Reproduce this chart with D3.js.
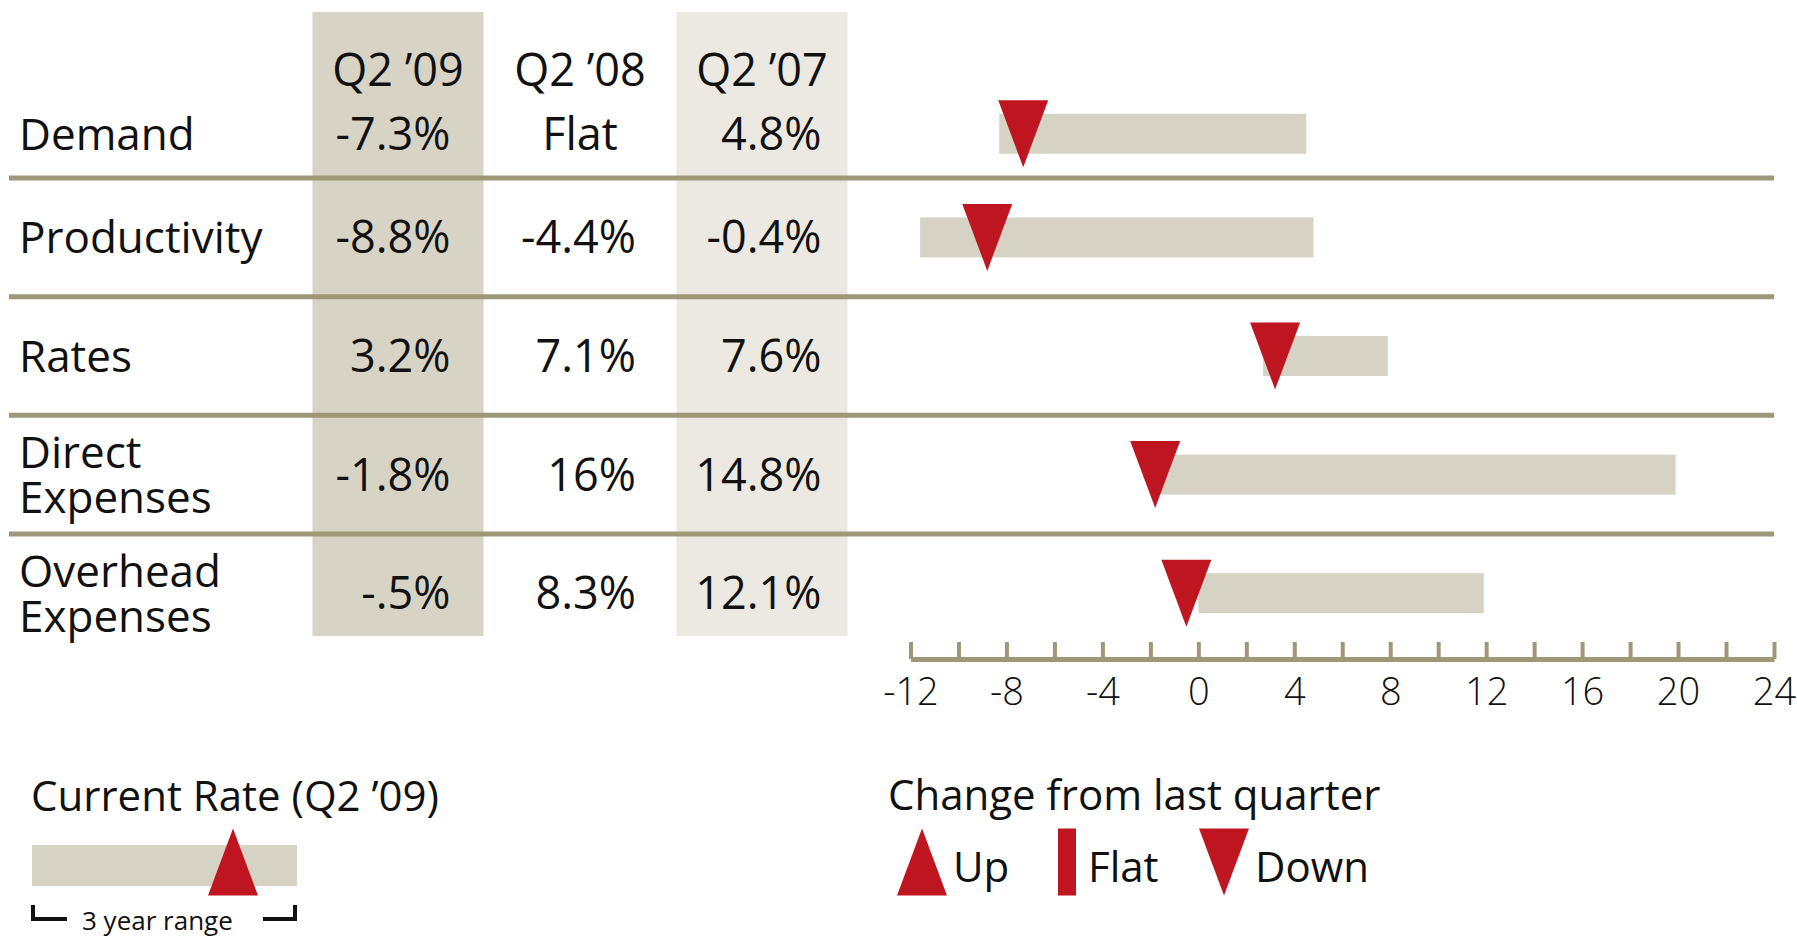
<!DOCTYPE html>
<html>
<head>
<meta charset="utf-8">
<script src="https://cdn.jsdelivr.net/npm/d3@7"></script>
<style>
  body { margin: 0; background: #fff; }
  svg text { font-family: "Open Sans", "Noto Sans", sans-serif; fill: #111; }
</style>
</head>
<body>
<div id="chart"></div>
<script>
// rows of the table
const categories = ["Demand", "Productivity", "Rates", "Direct Expenses", "Overhead Expenses"];
const labelLines = [["Demand"], ["Productivity"], ["Rates"], ["Direct", "Expenses"], ["Overhead", "Expenses"]];
const quarters = ["Q2 \u201909", "Q2 \u201908", "Q2 \u201907"];
const q209 = ["-7.3%", "-8.8%", "3.2%", "-1.8%", "-.5%"];
const q208 = ["Flat", "-4.4%", "7.1%", "16%", "8.3%"];
const q207 = ["4.8%", "-0.4%", "7.6%", "14.8%", "12.1%"];

// current rate (triangle) and 3 year range (bar)
const current = [-7.3, -8.8, 3.2, -1.8, -0.5];
const rangeMin = [-8.3, -11.6, 2.7, -1.6, 0.0];
const rangeMax = [4.5, 4.8, 7.9, 19.9, 11.9];
const change = ["down", "down", "down", "down", "down"];

const axisTicks = d3.range(-12, 25, 2);

const w = 1797, h = 938;
const red = "#bf1520", barCol = "#d6d3c5", olive = "#9d9877";
const triW = 50, triH = 67;
const rightPad = [33, 29.5, 26]; // value columns are right aligned, a bit in from the band edge

const svg = d3.select("#chart").append("svg")
  .attr("width", w).attr("height", h);

// scales
const y = d3.scaleBand().domain(categories).range([59.5, 652.5]);
const rowMid = (d, i) => y(d) + y.bandwidth() / 2 + (i === 0 ? 15 : 0); // first row sits under header
const col = d3.scaleBand().domain(quarters).range([307, 853]).paddingInner(0.06).paddingOuter(0.03);
const x = d3.scaleLinear().domain([-12, 24]).range([910.5, 1774]);

// column shading
svg.append("rect")
  .attr("x", col(quarters[0])).attr("y", 12)
  .attr("width", col.bandwidth()).attr("height", 624)
  .attr("fill", "#d7d4c6");
svg.append("rect")
  .attr("x", col(quarters[2])).attr("y", 12)
  .attr("width", col.bandwidth()).attr("height", 624)
  .attr("fill", "#ebe9e1");

// header
svg.append("g").selectAll("text")
  .data(quarters).enter().append("text")
  .attr("x", d => col(d) + col.bandwidth() / 2)
  .attr("y", 86)
  .attr("text-anchor", "middle")
  .attr("font-size", 45)
  .text(d => d);

// separators
svg.append("g").selectAll("line")
  .data(categories.slice(0, -1)).enter().append("line")
  .attr("x1", 9).attr("x2", 1774)
  .attr("y1", d => y(d) + y.bandwidth())
  .attr("y2", d => y(d) + y.bandwidth())
  .attr("stroke", olive).attr("stroke-width", 5);

// row labels
const lab = svg.append("g").selectAll("text")
  .data(categories).enter().append("text")
  .attr("font-size", 44);
lab.each(function (d, i) {
  const lines = labelLines[i];
  const base = rowMid(d, i) + 16 - (lines.length - 1) * 22.5;
  d3.select(this).selectAll("tspan")
    .data(lines).enter().append("tspan")
    .attr("x", 19)
    .attr("y", (t, j) => base + j * 45)
    .text(t => t);
});

// values
[q209, q208, q207].forEach((vals, c) => {
  const right = col(quarters[c]) + col.bandwidth() - rightPad[c];
  const mid = col(quarters[c]) + col.bandwidth() / 2;
  svg.append("g").selectAll("text")
    .data(vals).enter().append("text")
    .attr("x", v => v.includes("%") ? right : mid)
    .attr("y", (v, i) => rowMid(categories[i], i) + 16)
    .attr("text-anchor", v => v.includes("%") ? "end" : "middle")
    .attr("font-size", 45)
    .text(v => v);
});

// range bars
svg.append("g").selectAll("rect")
  .data(categories).enter().append("rect")
  .attr("x", (d, i) => x(rangeMin[i]))
  .attr("width", (d, i) => x(rangeMax[i]) - x(rangeMin[i]))
  .attr("y", (d, i) => rowMid(d, i) - 20)
  .attr("height", 40)
  .attr("fill", barCol);

// triangle shapes
function marker(cx, cy, dir) {
  const p = d3.path();
  if (dir === "down") {
    p.moveTo(cx - triW / 2, cy - triH / 2);
    p.lineTo(cx + triW / 2, cy - triH / 2);
    p.lineTo(cx, cy + triH / 2);
  } else if (dir === "up") {
    p.moveTo(cx - triW / 2, cy + triH / 2);
    p.lineTo(cx + triW / 2, cy + triH / 2);
    p.lineTo(cx, cy - triH / 2);
  } else {
    p.rect(cx - 9, cy - triH / 2, 18, triH);
  }
  p.closePath();
  return p.toString();
}

svg.append("g").selectAll("path")
  .data(categories).enter().append("path")
  .attr("d", (d, i) => marker(x(current[i]), rowMid(d, i), change[i]))
  .attr("fill", red);

// axis
const axis = d3.axisBottom(x)
  .tickValues(axisTicks)
  .tickSizeInner(-17)
  .tickSizeOuter(0)
  .tickPadding(19)
  .tickFormat(d => d % 4 === 0 ? String(d) : "");

const ax = svg.append("g")
  .attr("transform", "translate(0,659)")
  .call(axis);
ax.select(".domain").attr("stroke", olive).attr("stroke-width", 5);
ax.selectAll(".tick line").attr("stroke", olive).attr("stroke-width", 4);
ax.selectAll(".tick text")
  .attr("font-size", 38)
  .attr("font-weight", 300)
  .attr("font-family", "'Open Sans', sans-serif")
  .attr("fill", "#111");

// legend: current rate
const leg = svg.append("g");
leg.append("text").attr("x", 31).attr("y", 811).attr("font-size", 42).text("Current Rate (Q2 \u201909)");
leg.append("rect").attr("x", 32).attr("y", 845).attr("width", 265).attr("height", 41).attr("fill", barCol);
leg.append("path").attr("d", marker(233, 862, "up")).attr("fill", red);
leg.append("path").attr("d", "M33,905V919H67M263,919H295V905")
  .attr("fill", "none").attr("stroke", "#111").attr("stroke-width", 4);
leg.append("text").attr("x", 82).attr("y", 930).attr("font-size", 26).text("3 year range");

// legend: change from last quarter
const keys = [["up", "Up", 922], ["flat", "Flat", 1067], ["down", "Down", 1224]];
leg.append("text").attr("x", 888).attr("y", 810).attr("font-size", 42).text("Change from last quarter");
keys.forEach(k => {
  leg.append("path").attr("d", marker(k[2], 862, k[0])).attr("fill", red);
  leg.append("text")
    .attr("x", k[0] === "flat" ? k[2] + 21 : k[2] + 31)
    .attr("y", 882).attr("font-size", 42).text(k[1]);
});
</script>
</body>
</html>
